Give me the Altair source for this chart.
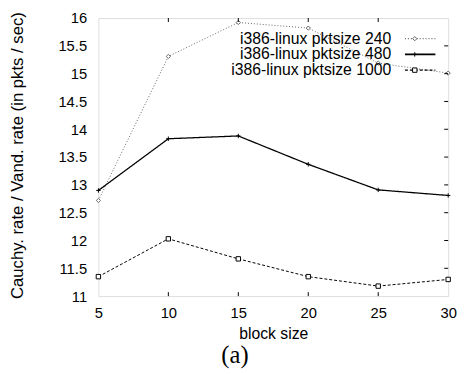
import altair as alt
import pandas as pd

block_size = [5, 10, 15, 20, 25, 30]
rate_240 = [12.72, 15.31, 15.92, 15.82, 15.19, 15.01]
rate_480 = [12.90, 13.83, 13.88, 13.37, 12.91, 12.81]
rate_1000 = [11.35, 12.03, 11.67, 11.35, 11.18, 11.30]
series_labels = ["i386-linux pktsize 240", "i386-linux pktsize 480", "i386-linux pktsize 1000"]
x_ticks = [5, 10, 15, 20, 25, 30]
y_ticks = [11, 11.5, 12, 12.5, 13, 13.5, 14, 14.5, 15, 15.5, 16]
caption = ["(a)"]

TOP = 7
W, H = 356, 283
FONT = "Liberation Sans"
PLUS = "M-1,0L1,0M0,-1L0,1"

xs = alt.Scale(domain=[5, 30], nice=False, zero=False)
ys = alt.Scale(domain=[11, 16], nice=False, zero=False)

x_axis = alt.Axis(
    title="block size", values=x_ticks, ticks=False, tickSize=0, domain=False, grid=False,
    labelFont=FONT, labelFontSize=15, labelColor="black", labelPadding=10,
    labelFlush=False, labelOverlap=False,
    titleFont=FONT, titleFontSize=16, titleFontWeight="normal", titleColor="black",
    titleY=38, titleBaseline="middle")
y_axis = alt.Axis(
    title="Cauchy. rate / Vand. rate (in pkts / sec)", values=y_ticks, format="~g",
    ticks=False, tickSize=0, domain=False, grid=False,
    labelFont=FONT, labelFontSize=15, labelColor="black", labelPadding=12,
    labelOverlap=False, labelFlush=False,
    titleFont=FONT, titleFontSize=17, titleFontWeight="normal", titleColor="black",
    titleX=-82, titleY=H / 2 - 2, titleBaseline="middle", titleAngle=-90)


def X(field):
    return alt.X(field, scale=xs, axis=x_axis)


def Y(field):
    return alt.Y(field, scale=ys, axis=y_axis)


styles = [
    dict(color="#666666", dash=[1, 2], width=1.0, shape="diamond", size=18, fill="white"),
    dict(color="black", dash=[1, 0], width=1.3, shape=PLUS, size=20, fill="none"),
    dict(color="black", dash=[3, 2], width=1.0, shape="square", size=20, fill="white"),
]
values = [rate_240, rate_480, rate_1000]

layers = []
for i, (lab, vals, st) in enumerate(zip(series_labels, values, styles)):
    df = pd.DataFrame({"x": block_size, "y": vals, "s": lab})
    base = alt.Chart(df)
    line = base.mark_line(color=st["color"], strokeDash=st["dash"], strokeWidth=st["width"]).encode(
        x=X("x:Q"), y=Y("y:Q"))
    pts = base.mark_point(shape=st["shape"], size=st["size"], color=st["color"] if i == 0 else "black",
                          fill=st["fill"], filled=False, strokeWidth=1, opacity=1).encode(
        x=X("x:Q"), y=Y("y:Q"))
    layers += [line, pts]

    # legend entry
    ldf = pd.DataFrame({"s": [lab]})
    ly = 21 + 16 * i
    lt = alt.Chart(ldf).mark_text(align="right", baseline="middle", font=FONT, fontSize=16, color="black").encode(
        text="s:N", x=alt.value(298), y=alt.value(ly))
    lr = alt.Chart(ldf).mark_rule(color=st["color"], strokeDash=st["dash"], strokeWidth=st["width"] + 0.3).encode(
        x=alt.value(312), x2=alt.value(343), y=alt.value(ly))
    lp = alt.Chart(ldf).mark_point(shape=st["shape"], size=st["size"], color=st["color"] if i == 0 else "black",
                                   fill=st["fill"], filled=False, strokeWidth=1, opacity=1).encode(
        x=alt.value(322), y=alt.value(ly))
    layers += [lt, lr, lp]

# inward ticks
xt = pd.DataFrame({"v": x_ticks[1:-1]})
yt = pd.DataFrame({"v": y_ticks[1:-1]})
TL = 4
layers.append(alt.Chart(xt).mark_rule(color="black", strokeWidth=1).encode(
    x=X("v:Q"), y=alt.value(H), y2=alt.value(H - TL)))
layers.append(alt.Chart(xt).mark_rule(color="black", strokeWidth=1).encode(
    x=X("v:Q"), y=alt.value(0), y2=alt.value(TL)))
layers.append(alt.Chart(yt).mark_rule(color="black", strokeWidth=1).encode(
    y=Y("v:Q"), x=alt.value(W), x2=alt.value(W - TL)))

# caption
cdf = pd.DataFrame({"c": caption})
layers.append(alt.Chart(cdf).mark_text(font="Liberation Serif", fontSize=25, color="black",
                                      align="center", baseline="middle").encode(
    text="c:N", x=alt.value(139), y=alt.value(H + 60)))

chart = alt.layer(*layers).properties(
    width=W, height=H,
    autosize=alt.AutoSizeParams(type="none"),
    padding={"left": 92, "top": TOP, "right": 10, "bottom": 74},
).configure_view(stroke="black", strokeWidth=1.5).configure(background="white")

chart.save("out.html", embed_options={"renderer": "svg", "actions": False})
